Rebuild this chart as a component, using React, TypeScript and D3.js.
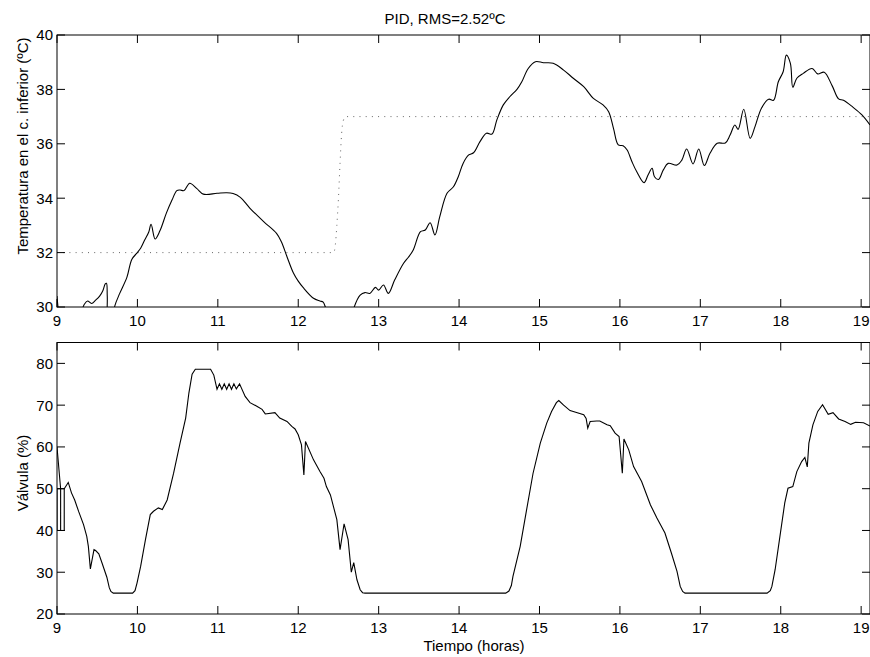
import React from "react";
import * as d3 from "d3";

// Temperature of the lower greenhouse section [hour, ºC]
const tempSeries: [number, number][] = [
  [9.0, 30.4], [9.02, 29.8], [9.05, 29.3], [9.2, 29.2], [9.3, 29.8], [9.34, 30.1],
  [9.38, 30.22], [9.43, 30.13], [9.48, 30.25], [9.53, 30.4], [9.57, 30.6], [9.6, 30.85],
  [9.615, 30.87], [9.625, 30.4], [9.64, 29.4], [9.68, 29.4], [9.72, 30.05], [9.78, 30.5],
  [9.87, 31.1], [9.93, 31.75], [9.99, 31.97], [10.04, 32.16], [10.09, 32.46], [10.14, 32.75],
  [10.17, 33.04], [10.22, 32.5], [10.28, 32.8], [10.36, 33.45], [10.43, 33.93], [10.49, 34.28],
  [10.53, 34.3], [10.58, 34.28], [10.65, 34.55], [10.74, 34.35], [10.82, 34.15], [10.99, 34.18],
  [11.11, 34.2], [11.19, 34.17], [11.28, 34.03], [11.4, 33.63], [11.57, 33.14], [11.73, 32.71],
  [11.79, 32.4], [11.86, 31.85], [11.94, 31.25], [12.0, 30.95], [12.06, 30.72], [12.19, 30.32],
  [12.27, 30.22], [12.31, 30.18], [12.35, 29.9], [12.45, 29.4], [12.65, 29.4], [12.69, 29.95],
  [12.77, 30.44], [12.83, 30.53], [12.89, 30.5], [12.96, 30.72], [13.0, 30.62], [13.06, 30.81],
  [13.12, 30.5], [13.2, 31.0], [13.31, 31.61], [13.37, 31.83], [13.43, 32.1], [13.52, 32.77],
  [13.58, 32.83], [13.64, 33.1], [13.7, 32.65], [13.76, 33.32], [13.85, 34.18], [13.93, 34.42],
  [13.99, 34.79], [14.05, 35.28], [14.12, 35.59], [14.18, 35.67], [14.26, 36.08], [14.34, 36.39],
  [14.41, 36.36], [14.47, 36.88], [14.55, 37.43], [14.63, 37.73], [14.72, 38.0], [14.78, 38.28],
  [14.86, 38.77], [14.95, 39.02], [15.05, 38.98], [15.17, 38.96], [15.3, 38.71], [15.42, 38.41],
  [15.55, 38.1], [15.67, 37.67], [15.79, 37.43], [15.86, 37.18], [15.92, 36.57], [15.98, 35.96],
  [16.04, 35.93], [16.09, 35.77], [16.15, 35.34], [16.21, 34.97], [16.3, 34.57], [16.35, 34.85],
  [16.4, 35.1], [16.43, 34.79], [16.48, 34.69], [16.54, 35.04], [16.6, 35.28], [16.71, 35.22],
  [16.77, 35.4], [16.83, 35.81], [16.91, 35.26], [16.98, 35.81], [17.05, 35.2], [17.12, 35.65],
  [17.21, 36.02], [17.31, 36.03], [17.37, 36.32], [17.43, 36.69], [17.47, 36.53], [17.54, 37.27],
  [17.62, 36.2], [17.68, 36.63], [17.76, 37.31], [17.85, 37.64], [17.91, 37.6], [17.97, 38.28],
  [18.03, 38.65], [18.07, 39.26], [18.12, 38.96], [18.15, 38.08], [18.2, 38.41], [18.28, 38.59],
  [18.39, 38.77], [18.46, 38.57], [18.54, 38.63], [18.64, 38.13], [18.72, 37.65], [18.78, 37.6],
  [18.9, 37.34], [19.01, 37.06], [19.11, 36.69],
];

// Setpoint [hour, ºC]
const setpointSeries: [number, number][] = [
  [9.0, 32], [12.44, 32], [12.46, 32.25], [12.48, 33.0], [12.5, 34.0], [12.52, 35.3],
  [12.54, 36.4], [12.56, 36.85], [12.59, 37], [19.11, 37],
];

// Valve opening [hour, %]
const valveSeries: [number, number][] = [
  [9.0, 60], [9.045, 50], [9.045, 40], [9.0, 40], [9.0, 50], [9.09, 50], [9.09, 40],
  [9.045, 40], [9.045, 50], [9.09, 50],
  [9.14, 51.5], [9.18, 49.0], [9.22, 47.3], [9.27, 44.5], [9.33, 41.4], [9.37, 38.6],
  [9.39, 36.2], [9.415, 30.8], [9.46, 35.4], [9.48, 35.2], [9.52, 34.4], [9.56, 32.2],
  [9.62, 28.8], [9.65, 26.3], [9.67, 25.4], [9.7, 25.0], [9.94, 25.0], [9.97, 25.6],
  [9.995, 27.4], [10.04, 31.4], [10.1, 37.8], [10.16, 43.8], [10.2, 44.6], [10.26, 45.4],
  [10.31, 45.0], [10.37, 47.3], [10.45, 53.7], [10.53, 60.9], [10.6, 66.9], [10.64, 72.9],
  [10.68, 77.4], [10.72, 78.6], [10.91, 78.6], [10.95, 77.2], [10.99, 73.8], [11.02, 75.1],
  [11.05, 73.8], [11.08, 75.1], [11.11, 73.8], [11.14, 75.1], [11.17, 73.8], [11.2, 75.1],
  [11.23, 73.9], [11.27, 75.1], [11.34, 72.1], [11.4, 70.6], [11.49, 69.7], [11.55, 69.0],
  [11.59, 67.9], [11.71, 68.2], [11.77, 66.9], [11.86, 66.1], [11.92, 64.9], [11.96, 64.3],
  [12.0, 62.9], [12.04, 60.5], [12.07, 53.3], [12.09, 61.3], [12.19, 56.9], [12.27, 54.1],
  [12.32, 52.5], [12.35, 50.5], [12.4, 48.5], [12.48, 42.6], [12.52, 35.4], [12.57, 41.6],
  [12.62, 37.8], [12.66, 30.0], [12.69, 32.3], [12.73, 28.2], [12.77, 25.8], [12.8, 25.1],
  [12.83, 25.0], [14.58, 25.0], [14.62, 25.5], [14.65, 26.8], [14.67, 29.0], [14.76, 36.2],
  [14.84, 45.0], [14.92, 53.7], [15.01, 60.9], [15.09, 65.7], [15.15, 68.5], [15.21, 70.6],
  [15.24, 71.1], [15.3, 70.0], [15.38, 68.7], [15.45, 68.3], [15.55, 67.7], [15.58, 66.8],
  [15.6, 64.5], [15.63, 66.1], [15.71, 66.2], [15.75, 66.2], [15.84, 65.3], [15.88, 65.1],
  [15.94, 63.3], [15.99, 62.5], [16.03, 53.7], [16.05, 61.9], [16.11, 59.3], [16.17, 55.3],
  [16.27, 51.7], [16.38, 46.1], [16.46, 43.0], [16.56, 39.4], [16.64, 34.6], [16.71, 30.2],
  [16.75, 26.6], [16.78, 25.4], [16.81, 25.0], [17.83, 25.0], [17.87, 25.6], [17.89, 26.6],
  [17.93, 30.6], [17.99, 38.6], [18.05, 46.6], [18.09, 50.1], [18.15, 50.5], [18.2, 54.1],
  [18.26, 56.5], [18.3, 57.5], [18.33, 55.2], [18.35, 60.9], [18.4, 65.3], [18.46, 68.5],
  [18.52, 70.1], [18.59, 67.8], [18.65, 68.2], [18.72, 66.7], [18.8, 66.1], [18.87, 65.4],
  [18.93, 65.9], [19.03, 65.8], [19.11, 65.0],
];

const hourTicks = [9, 10, 11, 12, 13, 14, 15, 16, 17, 18, 19];
const tempTicks = [30, 32, 34, 36, 38, 40];
const valveTicks = [20, 30, 40, 50, 60, 70, 80];

const titleText = "PID, RMS=2.52ºC";
const tempLabel = "Temperatura en el c. inferior (ºC)";
const valveLabel = "Válvula (%)";
const timeLabel = "Tiempo (horas)";

const W = 870;
const H = 657;
const FONT = "'Liberation Sans', Arial, Helvetica, sans-serif";
const FS = 15;
const TICK = 8;

const x = d3.scaleLinear().domain([9, 19.11]).range([57, 870]);
const yTemp = d3.scaleLinear().domain([30, 40]).range([307, 35]);
const yValve = d3.scaleLinear().domain([20, 85]).range([614, 342.5]);

type Scale = d3.ScaleLinear<number, number>;

function Axes({ y, yTicks, id }: { y: Scale; yTicks: number[]; id: string }) {
  const [x0, x1] = x.range();
  const [yb, yt] = y.range();
  return (
    <g>
      <rect x={x0} y={yt} width={x1 - x0} height={yb - yt} fill="none" stroke="#000" strokeWidth={1} />
      {hourTicks.map((t) => (
        <g key={`${id}-x${t}`}>
          <line x1={x(t)} x2={x(t)} y1={yb} y2={yb - TICK} stroke="#000" />
          <line x1={x(t)} x2={x(t)} y1={yt} y2={yt + TICK} stroke="#000" />
          <text x={x(t)} y={yb + 19} textAnchor="middle" fontSize={FS} fontFamily={FONT}>
            {t}
          </text>
        </g>
      ))}
      {yTicks.map((t) => (
        <g key={`${id}-y${t}`}>
          <line x1={x0} x2={x0 + TICK} y1={y(t)} y2={y(t)} stroke="#000" />
          <line x1={x1} x2={x1 - TICK} y1={y(t)} y2={y(t)} stroke="#000" />
          <text x={53} y={y(t)} dy="0.36em" textAnchor="end" fontSize={FS} fontFamily={FONT}>
            {t}
          </text>
        </g>
      ))}
    </g>
  );
}

export default function App() {
  const [x0, x1] = x.range();
  const tempLine = d3
    .line<[number, number]>()
    .x((d) => x(d[0]))
    .y((d) => yTemp(d[1]))
    .curve(d3.curveCatmullRom.alpha(0.5));
  const spLine = d3
    .line<[number, number]>()
    .x((d) => x(d[0]))
    .y((d) => yTemp(d[1]))
    .curve(d3.curveMonotoneX);
  const valveLine = d3
    .line<[number, number]>()
    .x((d) => x(d[0]))
    .y((d) => yValve(d[1]));

  return (
    <svg
      width={W}
      height={H}
      viewBox={`0 0 ${W} ${H}`}
      style={{ position: "absolute", left: 0, top: 0, background: "#fff" }}
    >
      <defs>
        <clipPath id="clipTemp">
          <rect x={x0} y={yTemp.range()[1]} width={x1 - x0} height={yTemp.range()[0] - yTemp.range()[1]} />
        </clipPath>
        <clipPath id="clipValve">
          <rect x={x0} y={yValve.range()[1]} width={x1 - x0} height={yValve.range()[0] - yValve.range()[1]} />
        </clipPath>
      </defs>
      <rect x={0} y={0} width={W} height={H} fill="#fff" />

      <text x={445} y={24} textAnchor="middle" fontSize={FS} fontFamily={FONT}>
        {titleText}
      </text>

      {/* upper panel: temperature and setpoint */}
      <g clipPath="url(#clipTemp)">
        <path d={spLine(setpointSeries) ?? ""} fill="none" stroke="#666" strokeWidth={1} strokeDasharray="1,5.2" />
        <path d={tempLine(tempSeries) ?? ""} fill="none" stroke="#000" strokeWidth={1.1} />
      </g>
      <Axes y={yTemp} yTicks={tempTicks} id="t" />
      <text
        transform={`translate(28,146) rotate(-90)`}
        textAnchor="middle"
        fontSize={FS}
        fontFamily={FONT}
      >
        {tempLabel}
      </text>

      {/* lower panel: valve opening */}
      <g clipPath="url(#clipValve)">
        <path d={valveLine(valveSeries) ?? ""} fill="none" stroke="#000" strokeWidth={1.1} />
      </g>
      <Axes y={yValve} yTicks={valveTicks} id="v" />
      <text
        transform={`translate(28,473) rotate(-90)`}
        textAnchor="middle"
        fontSize={FS}
        fontFamily={FONT}
      >
        {valveLabel}
      </text>
      <text x={474} y={651} textAnchor="middle" fontSize={FS} fontFamily={FONT}>
        {timeLabel}
      </text>
    </svg>
  );
}
